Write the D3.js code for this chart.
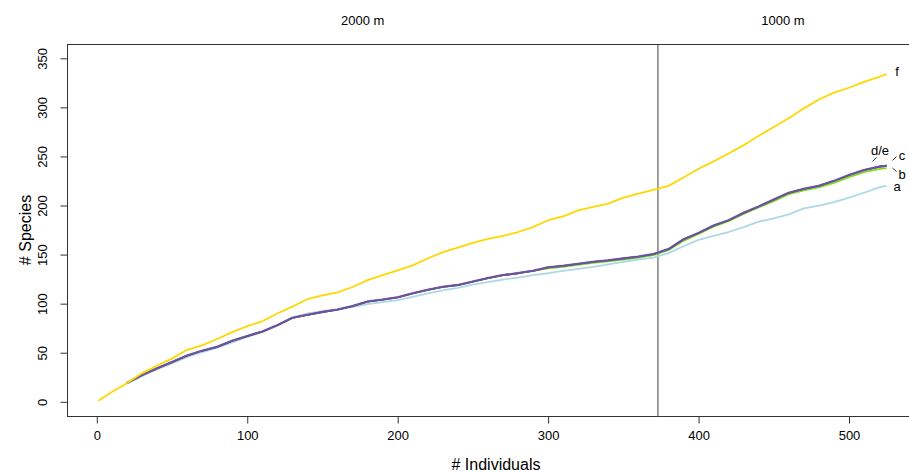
<!DOCTYPE html>
<html>
<head>
<meta charset="utf-8">
<script src="https://cdn.jsdelivr.net/npm/d3@7"></script>
<style>
  body { margin: 0; background: #fff; }
  text { font-family: Arial, "Liberation Sans", sans-serif; fill: #000; }
</style>
</head>
<body>
<svg id="chart" width="909" height="472"></svg>
<script>
// Individuals sampled along the accumulation curves
const individuals = [20,30,40,50,60,70,80,90,100,110,120,130,140,150,160,170,180,190,200,
  210,220,230,240,250,260,270,280,290,300,310,320,330,340,350,360,370,380,390,400,
  410,420,430,440,450,460,470,480,490,500,510,520,525];
const individualsF = [1,10].concat(individuals);

// Species counts per curve
const seriesA = [18.5,26,33,39,45.5,50.5,55,60.5,66,71,77.5,86,90,92.5,94,96.5,99.5,101.5,103.5,
  107,110.5,113.5,116,119.5,122,124.5,126.5,129,131,133.5,135.5,137.5,140,142.5,145,147,151.5,158.5,165,
  169,173,178,183.5,187,191,197,200,203.5,208,213,218.5,220];
const seriesB = [19,27,34,40.5,47,52,56,62,67,71.5,78,85.5,88.5,91.5,94,97.5,102,104,106.5,
  110.5,114,117,119,122.5,126,129,131,133.5,136,137.5,139.5,141.5,143,145,147,149.5,154.5,164,171,
  178.5,184,191.5,198,204.5,211.5,215.5,218.5,223,229,234,237,238];
const seriesC = [19.5,27.5,34.5,41,47.5,52.5,56.5,62.5,67.5,72,78.5,86,89,92,94.5,98,102.5,104.5,107,
  111,114.5,117.5,119.5,123,126.5,129.5,131.5,134,137.5,139,141,143,144.5,146.5,148.5,151,156,166,172.5,
  180,185.5,193,199.5,206.5,213.5,217.5,220.5,225.5,231.5,236.5,240,240.5];
const seriesD = [19,27,34,40.5,47,52,56,62,67,71.5,78,85.5,88.5,91.5,94,97.5,102,104,106.5,
  110.5,114,117,119,122.5,126,129,131,133.5,137,138.5,140.5,142.5,144,146,148,150.5,155.5,165.5,172,
  179.5,185,192.5,199,206,213,217,220,225,231,236,239.5,240.5];
const seriesE = [19,27,34,40.5,47,52,56,62,67,71.5,78,85.5,88.5,91.5,94,97.5,102,104,106.5,
  110.5,114,117,119,122.5,126,129,131,133.5,137,138.5,140.5,142.5,144,146,148,150.5,155.5,165.5,172,
  179.5,185,192.5,199,206,213,217,220,225,231,236,239.5,240.5];
const seriesF = [1,10,19,29,37,44,53,57.5,64,71,77,82,90,97,104.5,108.5,111.5,117,124,129,134,
  139,146,152.5,157,162,166,169,173,178,185,189,195,198.5,202,208,212,216,220,228.5,237.5,
  245,253,261.5,271,280,289,299,308,315,320,326,331,334];

const curves = [
  { name: "a", xs: individuals,  ys: seriesA, color: "#ADD8E6" },
  { name: "b", xs: individuals,  ys: seriesB, color: "#7CE11A" },
  { name: "c", xs: individuals,  ys: seriesC, color: "#C7B2DF" },
  { name: "d", xs: individuals,  ys: seriesD, color: "#5E4A96" },
  { name: "e", xs: individuals,  ys: seriesE, color: "#6A529E" },
  { name: "f", xs: individualsF, ys: seriesF, color: "#FFD700" }
];

const xTicks = [0,100,200,300,400,500];
const yTicks = [0,50,100,150,200,250,300,350];
const elevationBreak = 373;           // individuals where the 1000 m sample begins
const zoneLabels = ["2000 m", "1000 m"];

const svg = d3.select("#chart");
const box = { left: 67.5, right: 909.5, top: 44.5, bottom: 416.5 };

const x = d3.scaleLinear().domain([0, 500]).range([96.8, 849]);
const y = d3.scaleLinear().domain([0, 350]).range([401.8, 58.3]);

// frame
svg.append("rect")
  .attr("x", box.left).attr("y", box.top)
  .attr("width", box.right - box.left).attr("height", box.bottom - box.top)
  .attr("fill", "none").attr("stroke", "#333").attr("stroke-width", 1);

// x axis
const gx = svg.append("g").attr("transform", `translate(0,${box.bottom})`)
  .call(d3.axisBottom(x).tickValues(xTicks).tickSize(7).tickPadding(7).tickSizeOuter(0));
gx.select(".domain").remove();
gx.selectAll("line").attr("stroke", "#333");
gx.selectAll("text").style("font-size", "13px").attr("fill", "#000");

// y axis with labels parallel to the axis
const gy = svg.append("g").attr("transform", `translate(${box.left},0)`)
  .call(d3.axisLeft(y).tickValues(yTicks).tickSize(7).tickSizeOuter(0));
gy.select(".domain").remove();
gy.selectAll("line").attr("stroke", "#333");
gy.selectAll("text")
  .style("font-size", "13px").attr("fill", "#000")
  .attr("transform", "rotate(-90)")
  .attr("x", 0).attr("y", -20.5).attr("dy", 0)
  .attr("text-anchor", "middle");

// axis titles
svg.append("text").attr("x", 496).attr("y", 469.5)
  .attr("text-anchor", "middle").style("font-size", "16px").text("# Individuals");
svg.append("text").attr("transform", "translate(31,230) rotate(-90)")
  .attr("text-anchor", "middle").style("font-size", "16px").text("# Species");

// elevation boundary
const xb = x(elevationBreak);
svg.append("line").attr("x1", xb).attr("x2", xb)
  .attr("y1", box.top).attr("y2", box.bottom)
  .attr("stroke", "#444").attr("stroke-width", 1);

svg.append("text").attr("x", (box.left + xb) / 2).attr("y", 25)
  .attr("text-anchor", "middle").style("font-size", "13px").text(zoneLabels[0]);
svg.append("text").attr("x", (xb + 908) / 2).attr("y", 25)
  .attr("text-anchor", "middle").style("font-size", "13px").text(zoneLabels[1]);

// curves
const line = d3.line().x(d => x(d[0])).y(d => y(d[1]));
curves.forEach(c => {
  svg.append("path")
    .datum(c.xs.map((v, i) => [v, c.ys[i]]))
    .attr("d", line)
    .attr("fill", "none")
    .attr("stroke", c.color)
    .attr("stroke-width", 1.8)
    .attr("stroke-linejoin", "round");
});

// end labels with short leaders
const endLabels = [
  { t: "f",   x: 897, y: 76 },
  { t: "d/e", x: 880, y: 155 },
  { t: "c",   x: 902, y: 160 },
  { t: "b",   x: 902, y: 178.5 },
  { t: "a",   x: 897, y: 191 }
];
svg.selectAll("text.end").data(endLabels).join("text")
  .attr("class", "end")
  .attr("x", d => d.x).attr("y", d => d.y)
  .attr("text-anchor", "middle").style("font-size", "13px")
  .text(d => d.t);

const leaders = [
  [872.5, 161.5, 876.5, 157.5],
  [892.5, 160.5, 896.5, 156.5],
  [892.5, 168, 896.5, 171.5]
];
svg.selectAll("line.leader").data(leaders).join("line")
  .attr("class", "leader")
  .attr("x1", d => d[0]).attr("y1", d => d[1])
  .attr("x2", d => d[2]).attr("y2", d => d[3])
  .attr("stroke", "#333").attr("stroke-width", 1);
</script>
</body>
</html>
